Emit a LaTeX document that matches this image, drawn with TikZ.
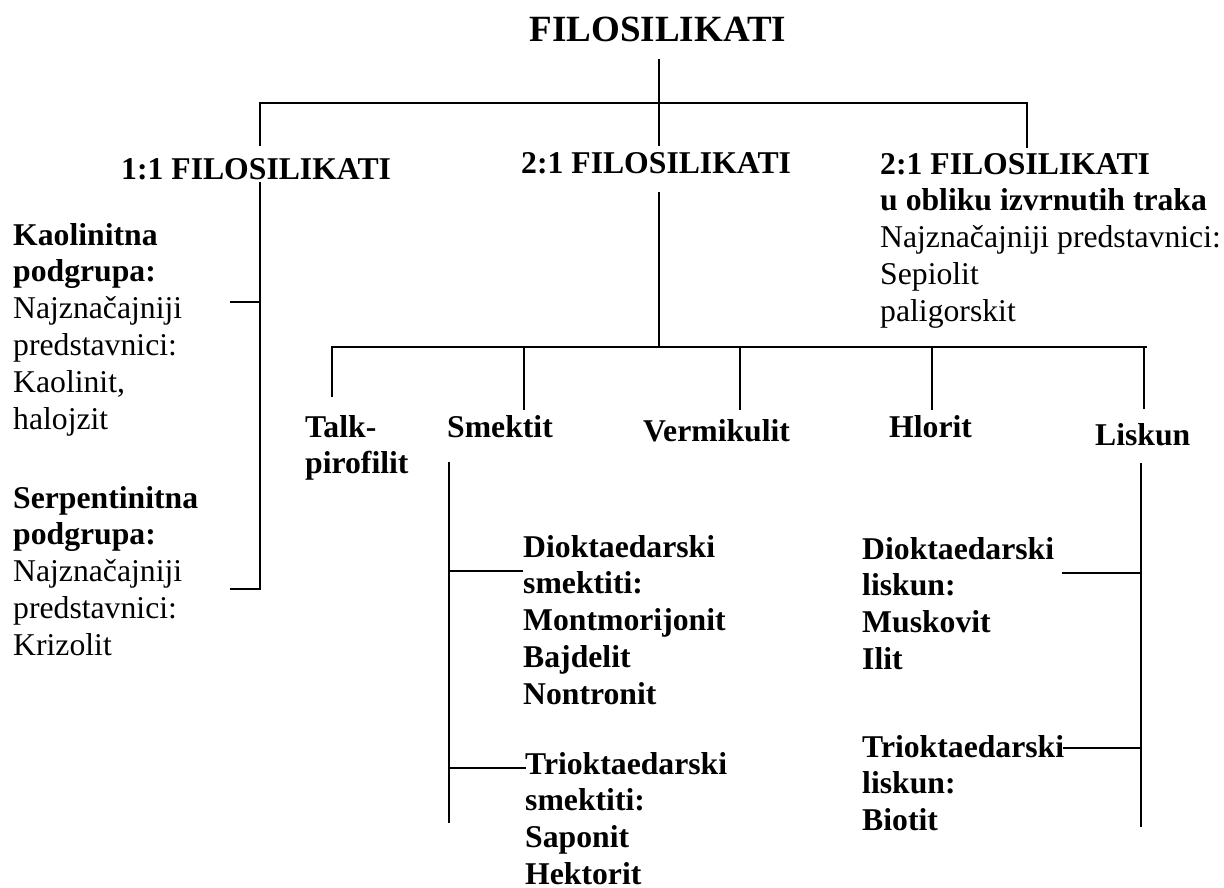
\documentclass[tikz,border=0pt]{standalone}
\usepackage{fontspec}
\setmainfont{Liberation Serif}
\tikzset{
  txt/.style={anchor=base west, inner sep=0pt, align=left, font=\fontsize{31.7}{36.8}\selectfont},
  btxt/.style={txt, font=\fontsize{31.7}{36.8}\selectfont\bfseries},
  ln/.style={line width=2pt},
}
\begin{document}
\begin{tikzpicture}[x=1pt,y=-1pt]
\useasboundingbox (0,0) rectangle (1224,888);
\node[anchor=base, inner sep=0pt, font=\fontsize{37}{44}\selectfont\bfseries] (fil) at (658,42) {FILOSILIKATI};
\node[btxt] (g11) at (121,179) {1:1 FILOSILIKATI};
\node[btxt] (g21) at (521,174) {2:1 FILOSILIKATI};
\node[txt] (g21t) at (880,321.2) {\textbf{2:1 FILOSILIKATI}\\\textbf{u obliku izvrnutih traka}\\Najznačajniji predstavnici:\\Sepiolit\\paligorskit};
\node[txt] (kao) at (13,429) {\textbf{Kaolinitna}\\\textbf{podgrupa:}\\Najznačajniji\\predstavnici:\\Kaolinit,\\halojzit};
\node[txt] (ser) at (13,655.2) {\textbf{Serpentinitna}\\\textbf{podgrupa:}\\Najznačajniji\\predstavnici:\\Krizolit};
\node[btxt] (tlk) at (305,473.8) {Talk-\\pirofilit};
\node[btxt] (smk) at (447,437) {Smektit};
\node[btxt] (ver) at (643,441) {Vermikulit};
\node[btxt] (hlo) at (889,437) {Hlorit};
\node[btxt] (lis) at (1095,445) {Liskun};
\node[btxt] (dsm) at (523,704.2) {Dioktaedarski\\smektiti:\\Montmorijonit\\Bajdelit\\Nontronit};
\node[btxt] (tsm) at (525,884.5) {Trioktaedarski\\smektiti:\\Saponit\\Hektorit};
\node[btxt] (dls) at (862,669.4) {Dioktaedarski\\liskun:\\Muskovit\\Ilit};
\node[btxt] (tls) at (862,830.6) {Trioktaedarski\\liskun:\\Biotit};

\coordinate (filB) at (659,59);
\coordinate (busA) at (260,103);
\coordinate (busB) at (1027,103);
\coordinate (g11T) at (260,146);
\coordinate (g21T) at (659,146);
\coordinate (g21tT) at (1027,148);
\draw[ln] (filB) -- (g21T);
\draw[ln] (g11T) -- (busA) -- (busB) -- (g21tT);

\coordinate (g11B) at (260,182);
\coordinate (kaoR) at (230,302);
\coordinate (serR) at (230,589);
\draw[ln] (g11B) -- (g11B |- serR) -- (serR);
\draw[ln] (kaoR) -- (kaoR -| g11B);

\coordinate (g21B) at (659,192);
\coordinate (busC) at (331,347);
\coordinate (busD) at (1147,347);
\coordinate (tlkT) at (332,397);
\coordinate (smkT) at (524,410);
\coordinate (verT) at (740,410);
\coordinate (hloT) at (932,410);
\coordinate (lisT) at (1144,409);
\draw[ln] (g21B) -- (g21B |- busC);
\draw[ln] (busC) -- (busD);
\foreach \c in {tlkT,smkT,verT,hloT,lisT}
  \draw[ln] (\c |- busC) -- (\c);

\coordinate (smkB) at (449,462);
\coordinate (smkE) at (449,823);
\coordinate (dsmL) at (523,571);
\coordinate (tsmL) at (526,768);
\draw[ln] (smkB) -- (smkE);
\draw[ln] (dsmL -| smkB) -- (dsmL);
\draw[ln] (tsmL -| smkB) -- (tsmL);

\coordinate (lisB) at (1141,463);
\coordinate (lisE) at (1141,827);
\coordinate (dlsR) at (1062,573);
\coordinate (tlsR) at (1063,748);
\draw[ln] (lisB) -- (lisE);
\draw[ln] (dlsR) -- (dlsR -| lisB);
\draw[ln] (tlsR) -- (tlsR -| lisB);
\end{tikzpicture}
\end{document}
